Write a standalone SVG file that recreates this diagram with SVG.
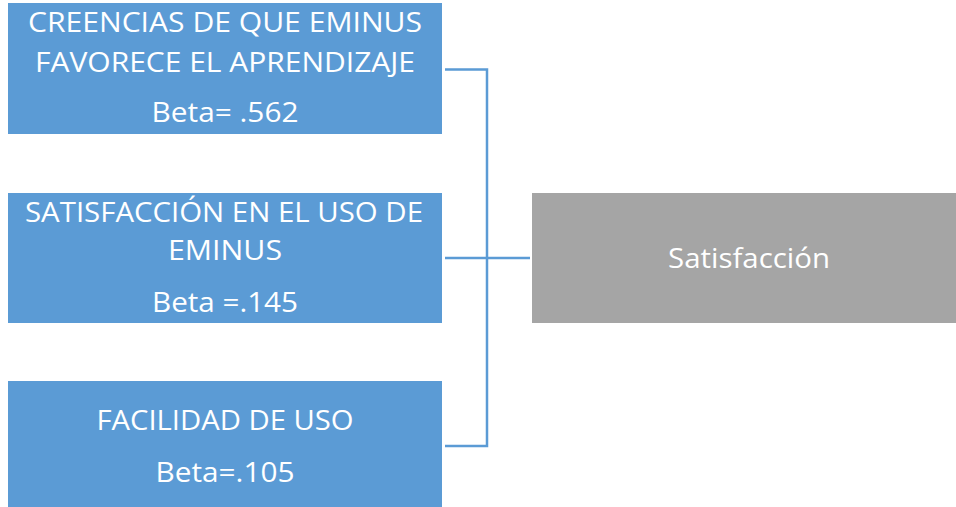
<svg xmlns="http://www.w3.org/2000/svg" width="956" height="507" viewBox="0 0 956 507">
<style>
.blue{fill:#5B9BD5}
.grey{fill:#A5A5A5}
.t{font-family:"Open Sans","Noto Sans","Liberation Sans",sans-serif;font-size:27.5px;fill:#FFFFFF;text-anchor:middle}
.c{fill:none;stroke:#5B9BD5;stroke-width:2.5}
</style>
<rect width="956" height="507" fill="#FFFFFF"/>
<g id="connectors">
<polyline class="c" points="445,69.5 487,69.5 487,446 445,446"/>
<line class="c" x1="445" y1="258" x2="530" y2="258"/>
</g>
<g id="node-creencias">
<rect class="blue" x="8" y="3" width="434" height="131"/>
<text class="t" x="225" y="32" textLength="394" lengthAdjust="spacingAndGlyphs">CREENCIAS DE QUE EMINUS</text>
<text class="t" x="225" y="72" textLength="380" lengthAdjust="spacingAndGlyphs">FAVORECE EL APRENDIZAJE</text>
<text class="t" x="225" y="122" textLength="147" lengthAdjust="spacingAndGlyphs">Beta= .562</text>
</g>
<g id="node-satisfaccion-uso">
<rect class="blue" x="8" y="193" width="434" height="130"/>
<text class="t" x="224" y="222" textLength="398" lengthAdjust="spacingAndGlyphs">SATISFACCIÓN EN EL USO DE</text>
<text class="t" x="225" y="260" textLength="114" lengthAdjust="spacingAndGlyphs">EMINUS</text>
<text class="t" x="225" y="312" textLength="146" lengthAdjust="spacingAndGlyphs">Beta =.145</text>
</g>
<g id="node-facilidad">
<rect class="blue" x="8" y="381" width="434" height="126"/>
<text class="t" x="225" y="430" textLength="257" lengthAdjust="spacingAndGlyphs">FACILIDAD DE USO</text>
<text class="t" x="225" y="482" textLength="139" lengthAdjust="spacingAndGlyphs">Beta=.105</text>
</g>
<g id="node-satisfaccion">
<rect class="grey" x="532" y="193" width="424" height="130"/>
<text class="t" x="749" y="268" textLength="162" lengthAdjust="spacingAndGlyphs">Satisfacción</text>
</g>
</svg>
